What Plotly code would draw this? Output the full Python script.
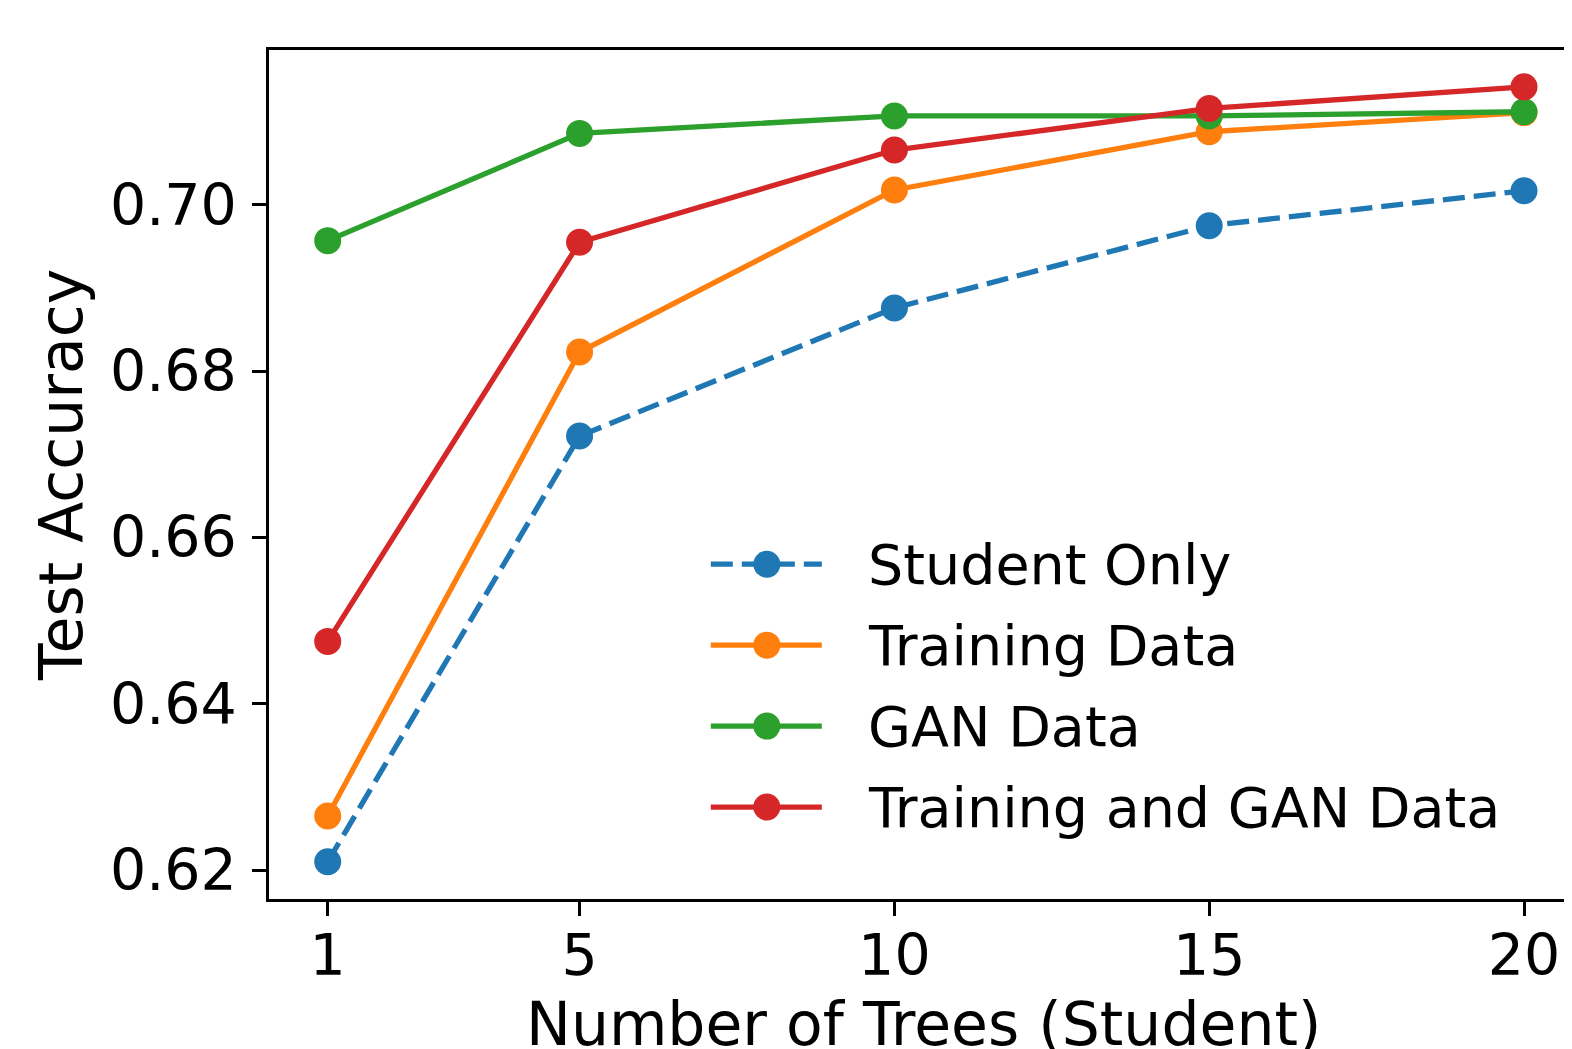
import plotly.graph_objects as go

trees = [1, 5, 10, 15, 20]
student_only = [0.6210, 0.6722, 0.6876, 0.6975, 0.7017]
training_data = [0.6265, 0.6823, 0.7018, 0.7088, 0.7111]
gan_data = [0.6957, 0.7086, 0.7107, 0.7107, 0.7112]
train_and_gan = [0.6475, 0.6955, 0.7066, 0.7116, 0.7142]

series_names = ["Student Only", "Training Data", "GAN Data", "Training and GAN Data"]
series_values = [student_only, training_data, gan_data, train_and_gan]
series_colors = ["#1f77b4", "#ff7f0e", "#2ca02c", "#d62728"]
series_dash = ["22px,9px", "solid", "solid", "solid"]

y_ticks = [0.62, 0.64, 0.66, 0.68, 0.70]
y_tick_labels = ["0.62", "0.64", "0.66", "0.68", "0.70"]
x_ticks = [1, 5, 10, 15, 20]

OFF = 8  # page body margin
W, H = 1572, 1049
L_pg, T_pg, B_pg = 269.3, 49.5, 899  # plot area edges on the page
L = L_pg - OFF
T = T_pg - OFF
B = H - (B_pg - OFF)
FONT = "DejaVu Sans"
LW = 5.3

fig = go.Figure()
for name, vals, col, dash in zip(series_names, series_values, series_colors, series_dash):
    fig.add_trace(go.Scatter(
        x=trees, y=vals, mode="lines+markers", name=name,
        line=dict(color=col, width=LW, dash=dash),
        marker=dict(color=col, size=27, line=dict(width=0)),
        showlegend=False,
    ))

plot_w = W - L
plot_h = H - T - B
def px_x(px):
    return (px - OFF - L) / plot_w
def px_y(py):
    return (H - B - (py - OFF)) / plot_h

leg_x0, leg_x1, leg_xm, leg_text = 711, 822, 767, 866
leg_rows = [564, 645, 726, 807]
shapes = []
annotations = []
for name, col, dash, ry in zip(series_names, series_colors, series_dash, leg_rows):
    shapes.append(dict(type="line", xref="paper", yref="paper",
                       x0=px_x(leg_x0), x1=px_x(leg_x1), y0=px_y(ry), y1=px_y(ry),
                       line=dict(color=col, width=LW, dash=dash)))
    shapes.append(dict(type="circle", xref="paper", yref="paper",
                       xsizemode="pixel", ysizemode="pixel",
                       xanchor=px_x(leg_xm), yanchor=px_y(ry),
                       x0=-13.5, x1=13.5, y0=-13.5, y1=13.5,
                       fillcolor=col, line=dict(width=0)))
    annotations.append(dict(xref="paper", yref="paper", x=px_x(leg_text), y=px_y(ry),
                            xanchor="left", yanchor="middle", showarrow=False,
                            text=name, font=dict(family=FONT, size=55.5, color="black")))

annotations.append(dict(xref="paper", yref="paper", x=px_x(924), y=px_y(1024),
                        xanchor="center", yanchor="middle", showarrow=False,
                        text="Number of Trees (Student)",
                        font=dict(family=FONT, size=60, color="black")))
annotations.append(dict(xref="paper", yref="paper", x=px_x(62), y=px_y(475),
                        xanchor="center", yanchor="middle", showarrow=False, textangle=-90,
                        text="Test Accuracy",
                        font=dict(family=FONT, size=60, color="black")))

x_scale = 62.95
y_per = 8320.0
x_lo = 1 - (328 - L_pg) / x_scale
x_hi = x_lo + plot_w / x_scale
y_lo = 0.62 - (B_pg - 870) / y_per
y_hi = 0.70 + (204.5 - T_pg) / y_per

fig.update_layout(
    width=W, height=H,
    margin=dict(l=L, r=0, t=T, b=B, pad=0),
    paper_bgcolor="white", plot_bgcolor="white",
    font=dict(family=FONT, size=57, color="black"),
    shapes=shapes, annotations=annotations,
    xaxis=dict(range=[x_lo, x_hi], tickvals=x_ticks, ticktext=[str(v) for v in x_ticks],
               showgrid=False, zeroline=False, showline=True, linecolor="black",
               linewidth=2.5, mirror=True, ticks="outside", ticklen=14, tickwidth=2.5,
               tickcolor="black", tickfont=dict(family=FONT, size=57, color="black"),
               ticklabelstandoff=-9),
    yaxis=dict(range=[y_lo, y_hi], tickvals=y_ticks, ticktext=y_tick_labels,
               showgrid=False, zeroline=False, showline=True, linecolor="black",
               linewidth=2.5, mirror=False, ticks="outside", ticklen=14, tickwidth=2.5,
               tickcolor="black", tickfont=dict(family=FONT, size=57, color="black"),
               ticklabelstandoff=4),
)

fig.write_html("out.html")
